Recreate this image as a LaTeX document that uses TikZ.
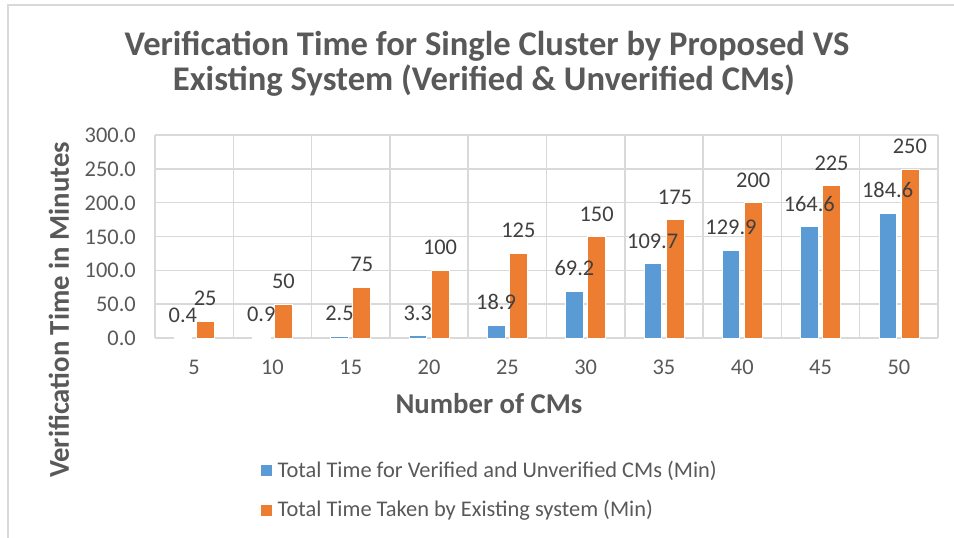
\documentclass[tikz,border=0pt]{standalone}
\usepackage{fontspec}
\setmainfont{Carlito}
\definecolor{gridgray}{HTML}{D9D9D9}
\definecolor{txtgray}{HTML}{595959}
\definecolor{lblgray}{HTML}{404040}
\definecolor{barblue}{HTML}{5B9BD5}
\definecolor{barorange}{HTML}{ED7D31}
\begin{document}
\begin{tikzpicture}[x=1pt,y=-1pt,
  txt/.style={inner sep=0pt, text=txtgray, font=\fontsize{22.4}{26}\selectfont},
  datalbl/.style={inner sep=0pt, anchor=base, text=lblgray, font=\fontsize{22.4}{26}\selectfont},
  ticklbl/.style={txt, anchor=base east},
  cattick/.style={txt, anchor=base},
  axtitle/.style={inner sep=0pt, text=txtgray, font=\bfseries\fontsize{28.7}{32}\selectfont},
  charttitle/.style={inner sep=0pt, anchor=base, text=txtgray, font=\bfseries\fontsize{34.6}{40}\selectfont},
  grid line/.style={draw=gridgray, line width=1.5pt},
  bluebar/.style={fill=barblue, draw=white, line width=0.6pt},
  orangebar/.style={fill=barorange, draw=white, line width=0.6pt},
  legkey/.style={minimum size=11pt, inner sep=0pt}
]
\useasboundingbox (0,0) rectangle (954,538);
\fill[white] (0,0) rectangle (954,538);

% chart frame (only top and left edges fall inside the page)
\draw[gridgray, line width=2pt] (8,538) -- (8,5) -- (954,5);

% title
\node[charttitle] (title1) at (487,55) {Verification Time for Single Cluster by Proposed VS};
\node[charttitle] (title2) at (484,90) {Existing System (Verified \& Unverified CMs)};

% value axis: 0..300 mapped onto y = 338..135 (0.67667 px per minute)
\foreach \v/\t in {0/0.0,50/50.0,100/100.0,150/150.0,200/200.0,250/250.0,300/300.0} {
  \pgfmathsetmacro\yy{338-\v*0.67667}
  \draw[grid line] (155,\yy) -- (938,\yy);
  \node[ticklbl] (ytick\v) at (136,\yy+7.5) {\t};
}
% vertical gridlines at category boundaries
\foreach \i in {0,...,10} {
  \pgfmathsetmacro\xx{155+78.3*\i}
  \draw[grid line] (\xx,135) -- (\xx,338);
}

% bars, data labels and category labels
\foreach \i/\n/\b/\o in {0/5/0.4/25,1/10/0.9/50,2/15/2.5/75,3/20/3.3/100,4/25/18.9/125,
                         5/30/69.2/150,6/35/109.7/175,7/40/129.9/200,8/45/164.6/225,9/50/184.6/250} {
  \pgfmathsetmacro\c{155+78.3*(\i+0.5)}
  \pgfmathsetmacro\bt{338-\b*0.67667}
  \pgfmathsetmacro\ot{338-\o*0.67667}
  \path[bluebar] (\c-20,338) rectangle (\c-2.5,\bt);
  \path[orangebar] (\c+2,338) rectangle (\c+20,\ot);
  \node[datalbl] (lb\i) at (\c-11.25,\bt-15.5) {\b};
  \node[datalbl] (lo\i) at (\c+11,\ot-15.5) {\o};
  \node[cattick] (xtick\i) at (\c,374) {\n};
}

% axis titles
\node[axtitle, rotate=90] (ytitle) at (59,310) {Verification Time in Minutes};
\node[axtitle, anchor=base] (xtitle) at (489,413) {Number of CMs};

% legend
\node[legkey, fill=barblue] (key1) at (266.5,470.5) {};
\node[txt, anchor=west] (leg1) at (277.5,470.5) {Total Time for Verified and Unverified CMs (Min)};
\node[legkey, fill=barorange] (key2) at (266.5,510.5) {};
\node[txt, anchor=west] (leg2) at (277.5,510.5) {Total Time Taken by Existing system (Min)};
\end{tikzpicture}
\end{document}
